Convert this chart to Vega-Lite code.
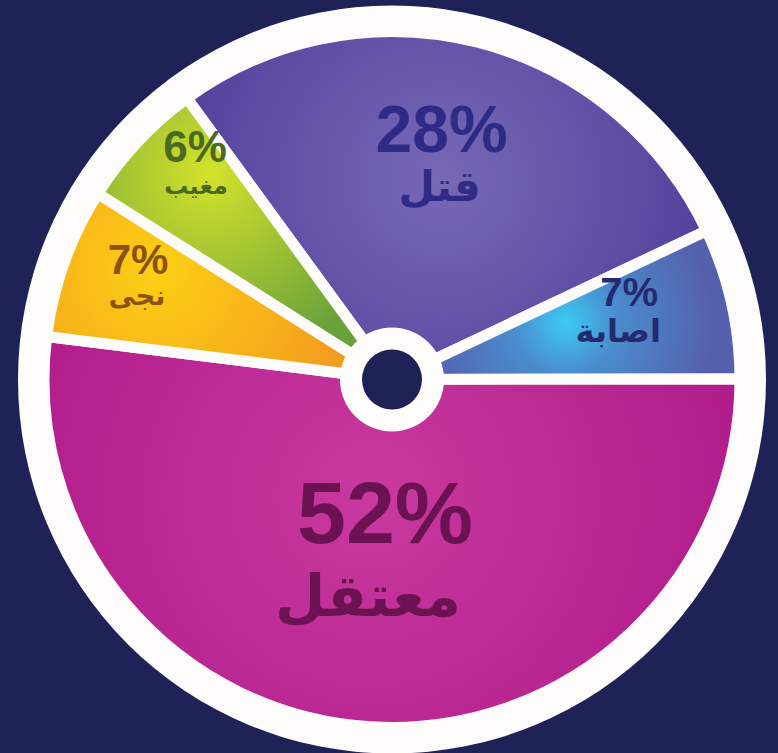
{
  "$schema": "https://vega.github.io/schema/vega-lite/v6.json",
  "autosize": {"type": "fit", "contains": "padding"},
  "width": 778,
  "height": 753,
  "padding": {"left": 6, "top": 6, "right": 0, "bottom": 0},
  "background": "#1f2257",
  "config": {"view": {"stroke": null}},
  "datasets": {
    "main": [
      {"cat": "قتل", "value": 28, "ord": 1},
      {"cat": "اصابة", "value": 7, "ord": 2},
      {"cat": "معتقل", "value": 52, "ord": 3},
      {"cat": "نجى", "value": 7, "ord": 4},
      {"cat": "مغيب", "value": 6, "ord": 5}
    ],
    "one": [{"v": 1}]
  },
  "resolve": {"scale": {"theta": "independent"}},
  "layer": [
    {
      "data": {"name": "one"},
      "mark": {"type": "arc", "outerRadius": 374, "color": "#fdfcfb"},
      "encoding": {"theta": {"field": "v", "type": "quantitative", "scale": {"range": [0, 6.2832]}}}
    },
    {
      "data": {"name": "main"},
      "mark": {"type": "arc", "outerRadius": 348, "stroke": "#fdfcfb", "strokeWidth": 11,
        "color": {"gradient": "radial", "x1": 0.49, "y1": 0.45, "r1": 0, "x2": 0.49, "y2": 0.45, "r2": 0.6,
          "stops": [{"offset": 0, "color": "#7769b6"}, {"offset": 1, "color": "#4c3b99"}]}},
      "encoding": {
        "theta": {"field": "value", "type": "quantitative", "stack": true, "scale": {"range": [-0.6301, 5.6531]}},
        "order": {"field": "ord", "type": "quantitative"},
        "opacity": {"condition": {"test": "datum.ord === 1", "value": 1}, "value": 0}
      }
    },
    {
      "data": {"name": "main"},
      "mark": {"type": "arc", "outerRadius": 348, "stroke": "#fdfcfb", "strokeWidth": 11,
        "color": {"gradient": "radial", "x1": 0.5, "y1": 0.55, "r1": 0, "x2": 0.5, "y2": 0.55, "r2": 0.42,
          "stops": [{"offset": 0, "color": "#3ccbf3"}, {"offset": 0.35, "color": "#4a8ccd"}, {"offset": 1, "color": "#5560ad"}]}},
      "encoding": {
        "theta": {"field": "value", "type": "quantitative", "stack": true, "scale": {"range": [-0.6301, 5.6531]}},
        "order": {"field": "ord", "type": "quantitative"},
        "opacity": {"condition": {"test": "datum.ord === 2", "value": 1}, "value": 0}
      }
    },
    {
      "data": {"name": "main"},
      "mark": {"type": "arc", "outerRadius": 348, "stroke": "#fdfcfb", "strokeWidth": 11,
        "color": {"gradient": "radial", "x1": 0.47, "y1": 0.45, "r1": 0, "x2": 0.47, "y2": 0.45, "r2": 0.55,
          "stops": [{"offset": 0, "color": "#c9399e"}, {"offset": 1, "color": "#b01c8b"}]}},
      "encoding": {
        "theta": {"field": "value", "type": "quantitative", "stack": true, "scale": {"range": [-0.6301, 5.6531]}},
        "order": {"field": "ord", "type": "quantitative"},
        "opacity": {"condition": {"test": "datum.ord === 3", "value": 1}, "value": 0}
      }
    },
    {
      "data": {"name": "main"},
      "mark": {"type": "arc", "outerRadius": 348, "stroke": "#fdfcfb", "strokeWidth": 11,
        "color": {"gradient": "radial", "x1": 0.32, "y1": 0.45, "r1": 0, "x2": 0.32, "y2": 0.45, "r2": 0.6,
          "stops": [{"offset": 0, "color": "#fdd014"}, {"offset": 1, "color": "#f39a1f"}]}},
      "encoding": {
        "theta": {"field": "value", "type": "quantitative", "stack": true, "scale": {"range": [-0.6301, 5.6531]}},
        "order": {"field": "ord", "type": "quantitative"},
        "opacity": {"condition": {"test": "datum.ord === 4", "value": 1}, "value": 0}
      }
    },
    {
      "data": {"name": "main"},
      "mark": {"type": "arc", "outerRadius": 348, "stroke": "#fdfcfb", "strokeWidth": 11,
        "color": {"gradient": "radial", "x1": 0.38, "y1": 0.28, "r1": 0, "x2": 0.38, "y2": 0.28, "r2": 0.65,
          "stops": [{"offset": 0, "color": "#d4e22c"}, {"offset": 1, "color": "#6aa23a"}]}},
      "encoding": {
        "theta": {"field": "value", "type": "quantitative", "stack": true, "scale": {"range": [-0.6301, 5.6531]}},
        "order": {"field": "ord", "type": "quantitative"},
        "opacity": {"condition": {"test": "datum.ord === 5", "value": 1}, "value": 0}
      }
    },
    {
      "data": {"name": "one"},
      "mark": {"type": "arc", "outerRadius": 52, "color": "#fdfcfb"},
      "encoding": {"theta": {"field": "v", "type": "quantitative", "scale": {"range": [0, 6.2832]}}}
    },
    {
      "data": {"name": "one"},
      "mark": {"type": "arc", "outerRadius": 30, "color": "#1f2257"},
      "encoding": {"theta": {"field": "v", "type": "quantitative", "scale": {"range": [0, 6.2832]}}}
    },
    {
      "data": {"name": "main"},
      "transform": [{"calculate": "datum.value + '%'", "as": "label"}],
      "layer": [
        {"mark": {"type": "text", "radius": 225, "dx": -6, "dy": -29, "font": "Liberation Sans", "fontWeight": "bold", "fontSize": 66, "color": "#2e2b86", "align": "center", "baseline": "middle"},
         "encoding": {"theta": {"field": "value", "type": "quantitative", "stack": true, "scale": {"range": [-0.6301, 5.6531]}}, "order": {"field": "ord", "type": "quantitative"},
           "text": {"condition": {"test": "datum.ord === 1", "field": "label"}, "value": ""}}},
        {"mark": {"type": "text", "radius": 225, "dx": -8, "dy": 27, "font": "DejaVu Sans", "fontWeight": "bold", "fontSize": 42, "color": "#2e2b86", "align": "center", "baseline": "middle"},
         "encoding": {"theta": {"field": "value", "type": "quantitative", "stack": true, "scale": {"range": [-0.6301, 5.6531]}}, "order": {"field": "ord", "type": "quantitative"},
           "text": {"condition": {"test": "datum.ord === 1", "field": "cat"}, "value": ""}}},
        {"mark": {"type": "text", "radius": 235, "dx": 8, "dy": -34, "font": "Liberation Sans", "fontWeight": "bold", "fontSize": 40, "color": "#232a70", "align": "center", "baseline": "middle"},
         "encoding": {"theta": {"field": "value", "type": "quantitative", "stack": true, "scale": {"range": [-0.6301, 5.6531]}}, "order": {"field": "ord", "type": "quantitative"},
           "text": {"condition": {"test": "datum.ord === 2", "field": "label"}, "value": ""}}},
        {"mark": {"type": "text", "radius": 235, "dx": -3, "dy": 4, "font": "DejaVu Sans", "fontWeight": "bold", "fontSize": 32, "color": "#232a70", "align": "center", "baseline": "middle"},
         "encoding": {"theta": {"field": "value", "type": "quantitative", "stack": true, "scale": {"range": [-0.6301, 5.6531]}}, "order": {"field": "ord", "type": "quantitative"},
           "text": {"condition": {"test": "datum.ord === 2", "field": "cat"}, "value": ""}}},
        {"mark": {"type": "text", "radius": 180, "dx": 4, "dy": -42, "font": "Liberation Sans", "fontWeight": "bold", "fontSize": 88, "color": "#6b1253", "align": "center", "baseline": "middle"},
         "encoding": {"theta": {"field": "value", "type": "quantitative", "stack": true, "scale": {"range": [-0.6301, 5.6531]}}, "order": {"field": "ord", "type": "quantitative"},
           "text": {"condition": {"test": "datum.ord === 3", "field": "label"}, "value": ""}}},
        {"mark": {"type": "text", "radius": 180, "dx": -13, "dy": 40, "font": "DejaVu Sans", "fontWeight": "bold", "fontSize": 58, "color": "#6b1253", "align": "center", "baseline": "middle"},
         "encoding": {"theta": {"field": "value", "type": "quantitative", "stack": true, "scale": {"range": [-0.6301, 5.6531]}}, "order": {"field": "ord", "type": "quantitative"},
           "text": {"condition": {"test": "datum.ord === 3", "field": "cat"}, "value": ""}}},
        {"mark": {"type": "text", "radius": 273, "dx": 3, "dy": -26, "font": "Liberation Sans", "fontWeight": "bold", "fontSize": 42, "color": "#8a5214", "align": "center", "baseline": "middle"},
         "encoding": {"theta": {"field": "value", "type": "quantitative", "stack": true, "scale": {"range": [-0.6301, 5.6531]}}, "order": {"field": "ord", "type": "quantitative"},
           "text": {"condition": {"test": "datum.ord === 4", "field": "label"}, "value": ""}}},
        {"mark": {"type": "text", "radius": 273, "dx": 2, "dy": 10, "font": "DejaVu Sans", "fontWeight": "bold", "fontSize": 27, "color": "#8a5214", "align": "center", "baseline": "middle"},
         "encoding": {"theta": {"field": "value", "type": "quantitative", "stack": true, "scale": {"range": [-0.6301, 5.6531]}}, "order": {"field": "ord", "type": "quantitative"},
           "text": {"condition": {"test": "datum.ord === 4", "field": "cat"}, "value": ""}}},
        {"mark": {"type": "text", "radius": 289, "dx": 14, "dy": -33, "font": "Liberation Sans", "fontWeight": "bold", "fontSize": 44, "color": "#4a6a20", "align": "center", "baseline": "middle"},
         "encoding": {"theta": {"field": "value", "type": "quantitative", "stack": true, "scale": {"range": [-0.6301, 5.6531]}}, "order": {"field": "ord", "type": "quantitative"},
           "text": {"condition": {"test": "datum.ord === 5", "field": "label"}, "value": ""}}},
        {"mark": {"type": "text", "radius": 289, "dx": 15, "dy": 5, "font": "DejaVu Sans", "fontWeight": "bold", "fontSize": 24, "color": "#4a6a20", "align": "center", "baseline": "middle"},
         "encoding": {"theta": {"field": "value", "type": "quantitative", "stack": true, "scale": {"range": [-0.6301, 5.6531]}}, "order": {"field": "ord", "type": "quantitative"},
           "text": {"condition": {"test": "datum.ord === 5", "field": "cat"}, "value": ""}}}
      ]
    }
  ]
}
